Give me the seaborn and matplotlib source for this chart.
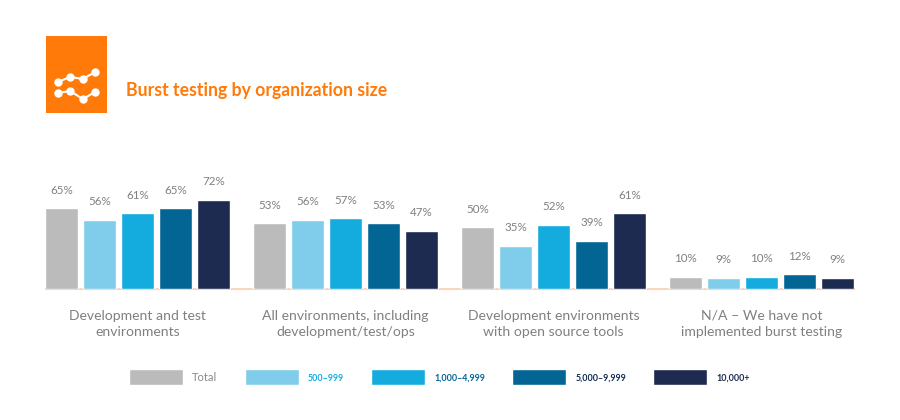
import matplotlib
matplotlib.use("Agg")
import matplotlib.pyplot as plt
import pandas as pd
import seaborn as sns

categories = ["Development and test\nenvironments",
              "All environments, including\ndevelopment/test/ops",
              "Development environments\nwith open source tools",
              "N/A – We have not\nimplemented burst testing"]
sizes = ["Total", "500–999", "1,000–4,999", "5,000–9,999", "10,000+"]
total = [65, 53, 50, 10]
s500 = [56, 56, 35, 9]
s1000 = [61, 57, 52, 10]
s5000 = [65, 53, 39, 12]
s10000 = [72, 47, 61, 9]
palette = ["#BBBBBB", "#7FCDEB", "#14ABDF", "#036594", "#1E2B50"]
legend_text = ["#8A8A8A", "#14ABDF", "#036594", "#0E2A50", "#1E2B50"]

rows = []
for size, vals in zip(sizes, [total, s500, s1000, s5000, s10000]):
    for c, v in zip(categories, vals):
        rows.append({"category": c, "size": size, "value": v})
df = pd.DataFrame(rows)

sns.set_theme(style="white")
plt.rcParams["font.family"] = ["Lato", "DejaVu Sans"]

W, H = 900, 420
fig = plt.figure(figsize=(W / 100, H / 100), dpi=100, facecolor="white")
ax = fig.add_axes([46 / W, 1 - 289 / H, 808 / W, 129.5 / H])

sns.barplot(data=df, x="category", y="value", hue="size", hue_order=sizes,
            order=categories, palette=palette, width=0.9125, gap=0.14,
            saturation=1, ax=ax)
ax.set_xlim(-0.439, 3.443)
ax.set_ylim(0, 104.5)
ax.set_xlabel("")
ax.set_ylabel("")
ax.set_yticks([])
sns.despine(ax=ax, left=True)
ax.spines["bottom"].set_color("#FBD5BC")
ax.spines["bottom"].set_linewidth(1.5)
ax.spines["bottom"].set_zorder(0.5)
ax.tick_params(axis="x", length=0, pad=15, labelsize=10.1, labelcolor="#808080")
for t in ax.get_xticklabels():
    t.set_linespacing(1.38)

for cont in ax.containers:
    ax.bar_label(cont, fmt="%g%%", padding=9, fontsize=8.4, color="#808080")

sns.move_legend(ax, "center left", bbox_to_anchor=(129 / W, 1 - 377 / H),
                bbox_transform=fig.transFigure, ncols=5, frameon=False,
                title=None, fontsize=8, borderpad=0, borderaxespad=0,
                handlelength=54 / 11.1, handleheight=1.84,
                handletextpad=9 / 11.1, columnspacing=27.2 / 11.1)
leg = ax.get_legend()
for t, c in zip(leg.get_texts(), legend_text):
    t.set_color(c)
    if c != legend_text[0]:
        t.set_fontweight("bold")
        t.set_fontsize(6.4)

# header icon
icon = fig.add_axes([46 / W, 1 - 113 / H, 61 / W, 77 / H])
icon.set_xlim(46, 107)
icon.set_ylim(113, 36)
icon.set_facecolor("#FF7A08")
icon.set_xticks([])
icon.set_yticks([])
for s in icon.spines.values():
    s.set_visible(False)
icon.plot([58, 70, 83, 95], [82, 77, 79, 72], "-o", color="white", lw=1.5, ms=5)
icon.plot([58, 70, 83, 95], [93, 91, 99, 92], "-o", color="white", lw=1.5, ms=5)

fig.text(126 / W, 1 - 90.5 / H, "Burst testing by organization size",
         color="#FF7A08", fontsize=12.7, fontweight="bold", va="center", ha="left")

fig.savefig("out.png", dpi=100)
